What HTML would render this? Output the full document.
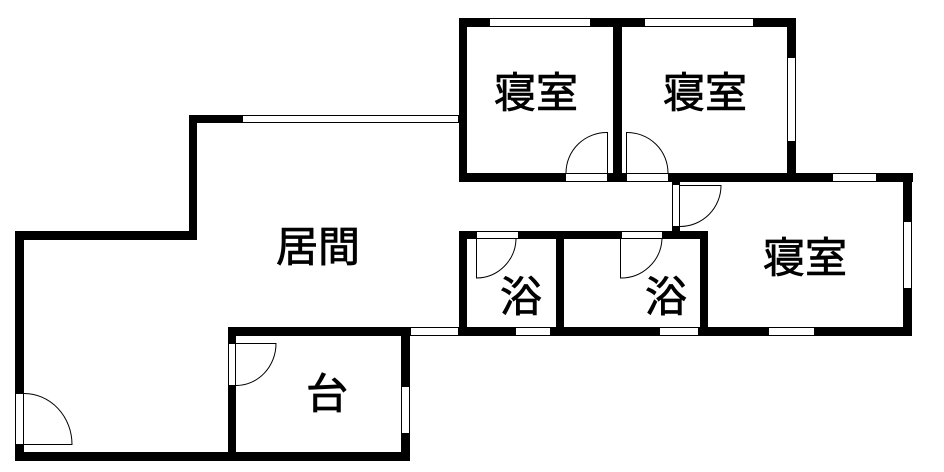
<!DOCTYPE html>
<html><head><meta charset="utf-8"><style>
html,body{margin:0;padding:0;background:#fff;}
svg{display:block}
text{font-family:"Liberation Sans","Noto Sans CJK JP",sans-serif;font-weight:normal;fill:#000;stroke:#000;stroke-width:0.8;}
</style></head><body>
<svg width="944" height="472" viewBox="0 0 944 472" xmlns="http://www.w3.org/2000/svg">
<g fill="#000">
<rect x="459" y="18" width="337" height="9"/>
<rect x="459" y="18" width="8" height="164"/>
<rect x="613" y="18" width="9" height="164"/>
<rect x="787" y="18" width="9" height="164"/>
<rect x="459" y="173" width="454" height="9"/>
<rect x="903" y="173" width="9" height="163"/>
<rect x="459" y="327" width="453" height="9"/>
<rect x="672" y="173" width="8" height="66"/>
<rect x="459" y="231" width="249" height="8"/>
<rect x="459" y="231" width="8" height="105"/>
<rect x="556" y="231" width="8" height="105"/>
<rect x="700" y="231" width="8" height="105"/>
<rect x="189" y="115" width="53" height="8"/>
<rect x="189" y="115" width="8" height="125"/>
<rect x="15" y="231" width="182" height="9"/>
<rect x="15" y="231" width="9" height="230"/>
<rect x="15" y="452" width="395" height="9"/>
<rect x="228" y="327" width="182" height="9"/>
<rect x="228" y="327" width="8" height="134"/>
<rect x="401" y="327" width="9" height="134"/>
</g>
<g fill="#fff" stroke="#000" stroke-width="1">
<rect x="489.5" y="18.5" width="101" height="8"/>
<rect x="644.5" y="18.5" width="109" height="8"/>
<rect x="787.5" y="57.5" width="8" height="84"/>
<rect x="565.5" y="173.5" width="42" height="8"/>
<rect x="626.5" y="173.5" width="42" height="8"/>
<rect x="832.5" y="173.5" width="44" height="8"/>
<rect x="903.5" y="221.5" width="8" height="67"/>
<rect x="768.5" y="327.5" width="46" height="8"/>
<rect x="672.5" y="184.5" width="7" height="42"/>
<rect x="476.5" y="231.5" width="42" height="7"/>
<rect x="621.5" y="231.5" width="41" height="7"/>
<rect x="515.5" y="327.5" width="35" height="8"/>
<rect x="659.5" y="327.5" width="39" height="8"/>
<rect x="410.5" y="327.5" width="48" height="8"/>
<rect x="242.5" y="115.5" width="216" height="7"/>
<rect x="15.5" y="393.5" width="8" height="51"/>
<rect x="228.5" y="343.5" width="7" height="42"/>
<rect x="401.5" y="386.5" width="8" height="47"/>
</g>
<g fill="none" stroke="#000" stroke-width="1">
<path d="M607.5 173 V132.5 A41 41 0 0 0 566 173"/>
<path d="M626.5 173 V132.5 A41 41 0 0 1 668 173"/>
<path d="M680 185.5 H721 A41 41 0 0 1 680 226.5"/>
<path d="M476.5 239 V278 A40 40 0 0 0 516 239"/>
<path d="M620.5 239 V278 A41 41 0 0 0 662 239"/>
<path d="M24 444.5 H72 A48 51 0 0 0 24 393.5"/>
<path d="M236 343.5 H276 A40 42 0 0 1 236 385.5"/>
</g>
<g font-size="42">
<text x="536" y="93" text-anchor="middle" dominant-baseline="central">寝室</text>
<text x="705" y="93" text-anchor="middle" dominant-baseline="central">寝室</text>
<text x="805" y="258" text-anchor="middle" dominant-baseline="central">寝室</text>
<text x="318" y="247" text-anchor="middle" dominant-baseline="central">居間</text>
<text x="327" y="394" text-anchor="middle" dominant-baseline="central">台</text>
<text x="521" y="297" text-anchor="middle" dominant-baseline="central">浴</text>
<text x="666" y="297" text-anchor="middle" dominant-baseline="central">浴</text>
</g>
</svg>
</body></html>
